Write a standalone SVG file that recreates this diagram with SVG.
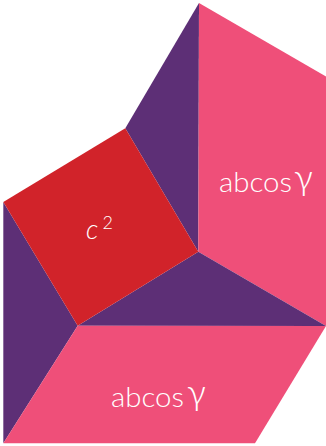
<svg xmlns="http://www.w3.org/2000/svg" width="326" height="446" viewBox="0 0 326 446">
<style>
.pink{fill:#EF4F79}
.purple{fill:#5D2F76}
.red{fill:#D1232A}
.lbl{fill:#fff;font-family:Lato,"Open Sans","DejaVu Sans",sans-serif;font-weight:300}
.g{font-size:36px}
</style>
<rect width="326" height="446" fill="#fff"/>
<g id="purple-top"><polygon class="purple" points="199,3 125.3,128.3 198.3,251.7"/></g>
<g id="pink-right"><polygon class="pink" points="199,3 326,76.5 326,326 198.3,251.7"/><text class="lbl" x="219" y="192" font-size="28"><tspan textLength="73" lengthAdjust="spacingAndGlyphs">abcos</tspan><tspan class="g" x="294" y="190">γ</tspan></text></g>
<g id="purple-bottom"><polygon class="purple" points="198.3,251.7 326,326 77.7,325.7"/></g>
<g id="purple-left"><polygon class="purple" points="3.3,202 77.7,325.7 3.3,443.3"/></g>
<g id="pink-bottom"><polygon class="pink" points="77.7,325.7 326,326 255,443.3 3.3,443.3"/><text class="lbl" x="111" y="406.5" font-size="28"><tspan textLength="73" lengthAdjust="spacingAndGlyphs">abcos</tspan><tspan class="g" x="187" y="404.5">γ</tspan></text></g>
<g id="square"><polygon class="red" points="125.3,128.3 198.3,251.7 77.7,325.7 3.3,202"/><text class="lbl" x="86" y="239" font-size="27" font-style="italic">c</text><text class="lbl" x="102.5" y="228.5" font-size="18">2</text></g>
</svg>
